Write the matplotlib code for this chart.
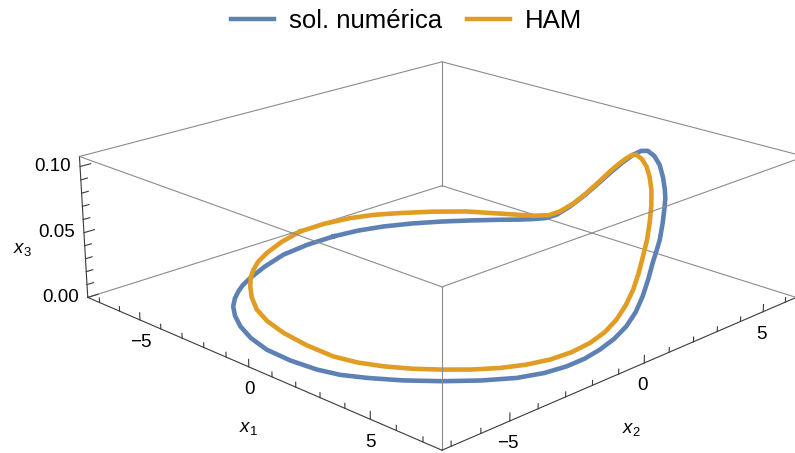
import numpy as np
import matplotlib
matplotlib.use("Agg")
import matplotlib.pyplot as plt
from matplotlib.lines import Line2D
from mpl_toolkits.mplot3d import proj3d

plt.rcParams['font.family'] = 'Liberation Sans'
plt.rcParams['mathtext.fontset'] = 'custom'
plt.rcParams['mathtext.rm'] = 'Liberation Sans'
plt.rcParams['mathtext.it'] = 'Liberation Sans:italic'

# closed orbit, numerical solution
num_x1 = [-6.38, -6.23, -5.93, -5.47, -4.90, -4.26, -3.65, -3.21, -2.90, -2.36,
          -1.84, -1.35, -0.84, -0.33, 0.25, 1.08, 2.06, 3.00, 3.82, 4.38,
          4.96, 5.21, 5.37, 5.46, 5.58, 5.85, 6.21, 6.18, 6.22, 6.22,
          6.24, 6.29, 6.35, 6.39, 6.43, 6.43, 6.31, 6.18, 5.87, 5.29,
          4.56, 3.75, 2.93, 2.24, 1.50, 0.48, -0.60, -1.59, -2.50, -3.25,
          -3.87, -4.35, -4.74, -5.05, -5.37, -5.82, -6.23, -6.39]
num_x2 = [0.84, 1.70, 2.50, 3.30, 4.07, 4.79, 5.42, 5.84, 6.19, 6.19,
          6.17, 6.25, 6.33, 6.40, 6.36, 6.02, 5.43, 4.76, 4.14, 3.81,
          3.40, 3.28, 3.20, 3.13, 2.98, 2.62, 2.12, 2.03, 1.85, 1.69,
          1.46, 1.14, 0.71, 0.19, -0.41, -1.00, -1.56, -2.28, -3.00, -3.75,
          -4.47, -5.13, -5.65, -6.00, -6.19, -6.28, -6.24, -6.02, -5.69, -5.31,
          -4.91, -4.49, -4.07, -3.68, -3.16, -2.28, -1.25, -0.19]
num_x3 = [0.0, 0.0, 0.0, 0.0, 0.0, 0.0, 0.0, 0.0, 0.0, 0.004,
          0.010, 0.019, 0.030, 0.042, 0.055, 0.070, 0.085, 0.097, 0.105, 0.106,
          0.105, 0.098, 0.090, 0.085, 0.080, 0.072, 0.065, 0.057, 0.050, 0.039,
          0.028, 0.019, 0.012, 0.007, 0.004, 0.002, 0.0, 0.0, 0.0, 0.0,
          0.0, 0.0, 0.0, 0.0, 0.0, 0.0, 0.0, 0.0, 0.0, 0.0,
          0.0, 0.0, 0.0, 0.0, 0.0, 0.0, 0.0, 0.0]

# HAM approximation of the same orbit
ham_x1 = [-6.63, -6.64, -6.45, -6.13, -5.65, -4.99, -4.19, -3.18, -2.32, -1.83,
          -1.58, -1.00, -0.42, 0.02, 0.56, 1.33, 2.14, 2.81, 3.41, 3.80,
          4.21, 4.42, 4.69, 4.86, 5.06, 5.21, 5.32, 5.43, 5.49, 5.74,
          6.01, 6.20, 6.30, 6.38, 6.31, 6.08, 5.73, 5.25, 4.68, 4.05,
          3.37, 2.67, 1.86, 0.74, -0.43, -1.44, -2.36, -3.22, -3.96, -4.53,
          -5.00, -5.44, -5.85, -6.30]
ham_x2 = [-0.27, 0.69, 1.58, 2.29, 2.95, 3.73, 4.48, 5.09, 5.61, 5.82,
          6.05, 6.07, 6.04, 6.12, 6.03, 5.61, 5.06, 4.57, 4.11, 3.92,
          3.68, 3.59, 3.39, 3.22, 2.95, 2.70, 2.43, 2.15, 1.88, 1.32,
          0.67, 0.01, -0.67, -1.46, -2.20, -2.87, -3.48, -4.05, -4.57, -5.06,
          -5.46, -5.75, -5.92, -5.91, -5.78, -5.55, -5.21, -4.73, -4.22, -3.77,
          -3.31, -2.80, -2.16, -1.26]
ham_x3 = [0.010, 0.010, 0.010, 0.010, 0.010, 0.010, 0.010, 0.010, 0.010, 0.012,
          0.015, 0.025, 0.037, 0.048, 0.060, 0.073, 0.085, 0.094, 0.100, 0.100,
          0.098, 0.092, 0.085, 0.075, 0.065, 0.055, 0.045, 0.035, 0.025, 0.019,
          0.015, 0.012, 0.010, 0.010, 0.010, 0.010, 0.010, 0.010, 0.010, 0.010,
          0.010, 0.010, 0.010, 0.010, 0.010, 0.010, 0.010, 0.010, 0.010, 0.010,
          0.010, 0.010, 0.010, 0.010]

x1_lim = (-7.6, 7.7)
x2_lim = (-7.3, 6.5)
x3_lim = (0.0, 0.1075)
x1_major = [-5, 0, 5]
x2_major = [-5, 0, 5]
x3_major = [0.0, 0.05, 0.10]
x1_minor = list(range(-7, 8))
x2_minor = list(range(-7, 7))
x3_minor = [i / 100 for i in range(0, 11)]

blue = '#5E81B5'
orange = '#E19C24'
box_col = '#8c8c8c'
axis_col = '#3a3a3a'

fig = plt.figure(figsize=(7.95, 4.53), dpi=100)
ax = fig.add_axes([0.0969, -0.309, 0.894, 1.570], projection='3d',
                  computed_zorder=False)
ax.set_xlim(*x1_lim)
ax.set_ylim(*x2_lim)
ax.set_zlim(*x3_lim)
ax.set_box_aspect((1, 1, 0.295))
ax.view_init(elev=19.5, azim=-45)
ax.set_proj_type('persp', focal_length=0.56)
ax.set_axis_off()

# bounding box edges; the ones meeting the far corner sit behind the curves
a0, a1 = x1_lim
b0, b1 = x2_lim
c0, c1 = x3_lim
corners = [(x, y, z) for x in (a0, a1) for y in (b0, b1) for z in (c0, c1)]
for i, p in enumerate(corners):
    for q in corners[i + 1:]:
        if sum(pp != qq for pp, qq in zip(p, q)) != 1:
            continue
        back = (a0, b1) in [(p[0], p[1]), (q[0], q[1])]
        axis_edge = (p[2] == c0 and q[2] == c0 and (p[1] == b0 == q[1] or p[0] == a1 == q[0])) \
            or (p[0] == a0 == q[0] and p[1] == b0 == q[1])
        ax.plot([p[0], q[0]], [p[1], q[1]], [p[2], q[2]],
                color=axis_col if axis_edge else box_col,
                lw=0.8, zorder=1 if back else 5, clip_on=False)

# orbits
ax.plot(num_x1 + num_x1[:1], num_x2 + num_x2[:1], num_x3 + num_x3[:1],
        color=blue, lw=3.3, zorder=2, clip_on=False, solid_joinstyle='round')
ax.plot(ham_x1 + ham_x1[:1], ham_x2 + ham_x2[:1], ham_x3 + ham_x3[:1],
        color=orange, lw=3.3, zorder=3, clip_on=False, solid_joinstyle='round')

# ticks, pointing into the box
tk = dict(color=axis_col, lw=0.8, zorder=5, clip_on=False)
for t in x1_minor:
    h = 0.0055 if t in x1_major else 0.0035
    ax.plot([t, t], [b0, b0], [c0, c0 + h], **tk)
for t in x2_minor:
    h = 0.0055 if t in x2_major else 0.0035
    ax.plot([a1, a1], [t, t], [c0, c0 + h], **tk)
for t in x3_minor:
    h = 0.35 if any(abs(t - m) < 1e-9 for m in x3_major) else 0.22
    ax.plot([a0, a0], [b0, b0 + h], [t, t], **tk)

# labels sit a fixed pixel distance from the projected point on the axis
M = ax.get_proj()


def label(x, y, z, s, dx, dy):
    px, py, _ = proj3d.proj_transform(x, y, z, M)
    ax.annotate(s, xy=(px, py), xycoords='data', xytext=(dx, dy),
                textcoords='offset pixels', ha='center', va='center',
                fontsize=13.5, annotation_clip=False)


def fmt(t):
    return '\u2212%d' % -t if t < 0 else '%d' % t


for t in x1_major:
    label(t, b0, c0, fmt(t), 0.5, -23)
for t in x2_major:
    label(a1, t, c0, fmt(t), -1.5, -22.5)
for t in x3_major:
    label(a0, b0, t, '%.2f' % t, -27, 0)

label(0.0, b0, c0, '$x_1$', 0, -62)
label(a1, -0.5, c0, '$x_2$', 0, -61)
label(a0, b0, 0.037, '$x_3$', -63, 0)

handles = [Line2D([], [], color=blue, lw=3.2),
           Line2D([], [], color=orange, lw=3.2)]
fig.legend(handles, ['sol. numérica', 'HAM'], loc='center',
           bbox_to_anchor=(0.511, 1 - 21 / 453), ncol=2, frameon=False,
           fontsize=18.5, handlelength=1.67, handletextpad=0.58,
           columnspacing=0.97)

fig.savefig('out.png', dpi=100)
